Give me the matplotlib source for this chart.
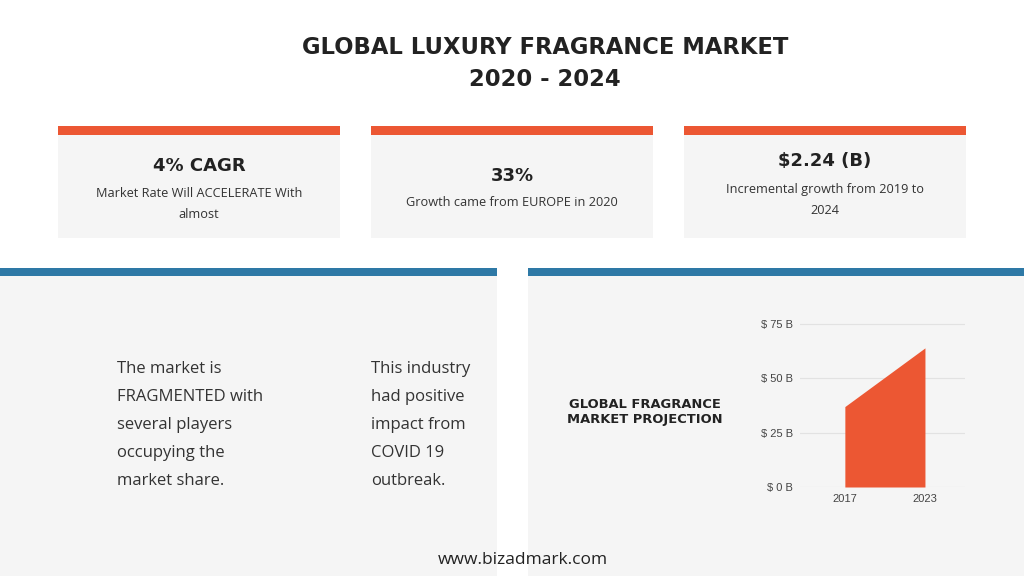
import matplotlib.pyplot as plt
from matplotlib.patches import Rectangle

# data
years = ['2017', '2023']
market_size = [37, 64]          # $ billions
y_ticks = [0, 25, 50, 75]
y_tick_labels = ['$ 0 B', '$ 25 B', '$ 50 B', '$ 75 B']

card_values = ['4% CAGR', '33%', '$2.24 (B)']
card_texts = ['Market Rate Will ACCELERATE With\nalmost',
              'Growth came from EUROPE in 2020',
              'Incremental growth from 2019 to\n2024']
left_notes = ['The market is\nFRAGMENTED with\nseveral players\noccupying the\nmarket share.',
              'This industry\nhad positive\nimpact from\nCOVID 19\noutbreak.']

orange = '#EC5733'
blue = '#2E79A6'
panel = '#F5F5F5'
dark = '#222222'
head_font = 'DejaVu Sans'
body_font = 'Open Sans'

W, H = 1024, 576
fig = plt.figure(figsize=(W / 100, H / 100), dpi=100)
fig.patch.set_facecolor('white')

# full canvas in pixel coords
bg = fig.add_axes([0, 0, 1, 1])
bg.set_xlim(0, W)
bg.set_ylim(H, 0)
bg.axis('off')

bg.text(545, 48, 'GLOBAL LUXURY FRAGRANCE MARKET', ha='center', va='center',
        fontsize=16.3, fontweight='bold', family=head_font, color=dark)
bg.text(545, 79, '2020 - 2024', ha='center', va='center',
        fontsize=16.3, fontweight='bold', family=head_font, color=dark)

# three cards
card_x = [58, 371, 684]
value_y = [166, 176, 161]
text_y = [204, 203, 200]
for i in range(3):
    x0 = card_x[i]
    bg.add_patch(Rectangle((x0, 134), 282, 104, color=panel, lw=0))
    bg.add_patch(Rectangle((x0, 126), 282, 9, color=orange, lw=0))
    cx = x0 + 141
    bg.text(cx, value_y[i], card_values[i], ha='center', va='center',
            fontsize=13, fontweight='bold', family=head_font, color=dark)
    bg.text(cx, text_y[i], card_texts[i], ha='center', va='center',
            fontsize=9.2, family=body_font, color='#333333', linespacing=1.75)

# bottom panels
bg.add_patch(Rectangle((0, 275), 497, 301, color=panel, lw=0))
bg.add_patch(Rectangle((0, 268), 497, 8, color=blue, lw=0))
bg.add_patch(Rectangle((528, 275), 496, 301, color=panel, lw=0))
bg.add_patch(Rectangle((528, 268), 496, 8, color=blue, lw=0))

for x0, note in zip([117, 371], left_notes):
    bg.text(x0, 425, note, ha='left', va='center', fontsize=12,
            family=body_font, color='#333333', linespacing=2.0)

bg.text(645, 412, 'GLOBAL FRAGRANCE\nMARKET PROJECTION', ha='center', va='center',
        fontsize=9.4, fontweight='bold', family=head_font, color=dark,
        linespacing=1.25)

bg.text(523, 560, 'www.bizadmark.com', ha='center', va='center',
        fontsize=12.5, family=body_font, color=dark)

# area chart
left, right, top, bottom = 800, 965, 321.8, 487
ax = fig.add_axes([left / W, 1 - bottom / H, (right - left) / W, (bottom - top) / H])
ax.set_facecolor('none')
xs = list(range(len(years)))
ax.fill_between(xs, market_size, 0, color=orange, lw=0)
ax.set_xlim(-0.56, 1.5)
ax.set_ylim(0, 76)
ax.set_yticks(y_ticks)
ax.set_yticklabels(y_tick_labels)
ax.set_xticks(xs)
ax.set_xticklabels(years)
ax.grid(axis='y', color='#E2E2E2', lw=0.8)
ax.set_axisbelow(True)
for s in ax.spines.values():
    s.set_visible(False)
ax.tick_params(length=0, labelsize=8, colors='#444444', pad=5)
for lab in ax.get_xticklabels() + ax.get_yticklabels():
    lab.set_family('Liberation Sans')

fig.savefig('out.png', dpi=100, facecolor='white')
